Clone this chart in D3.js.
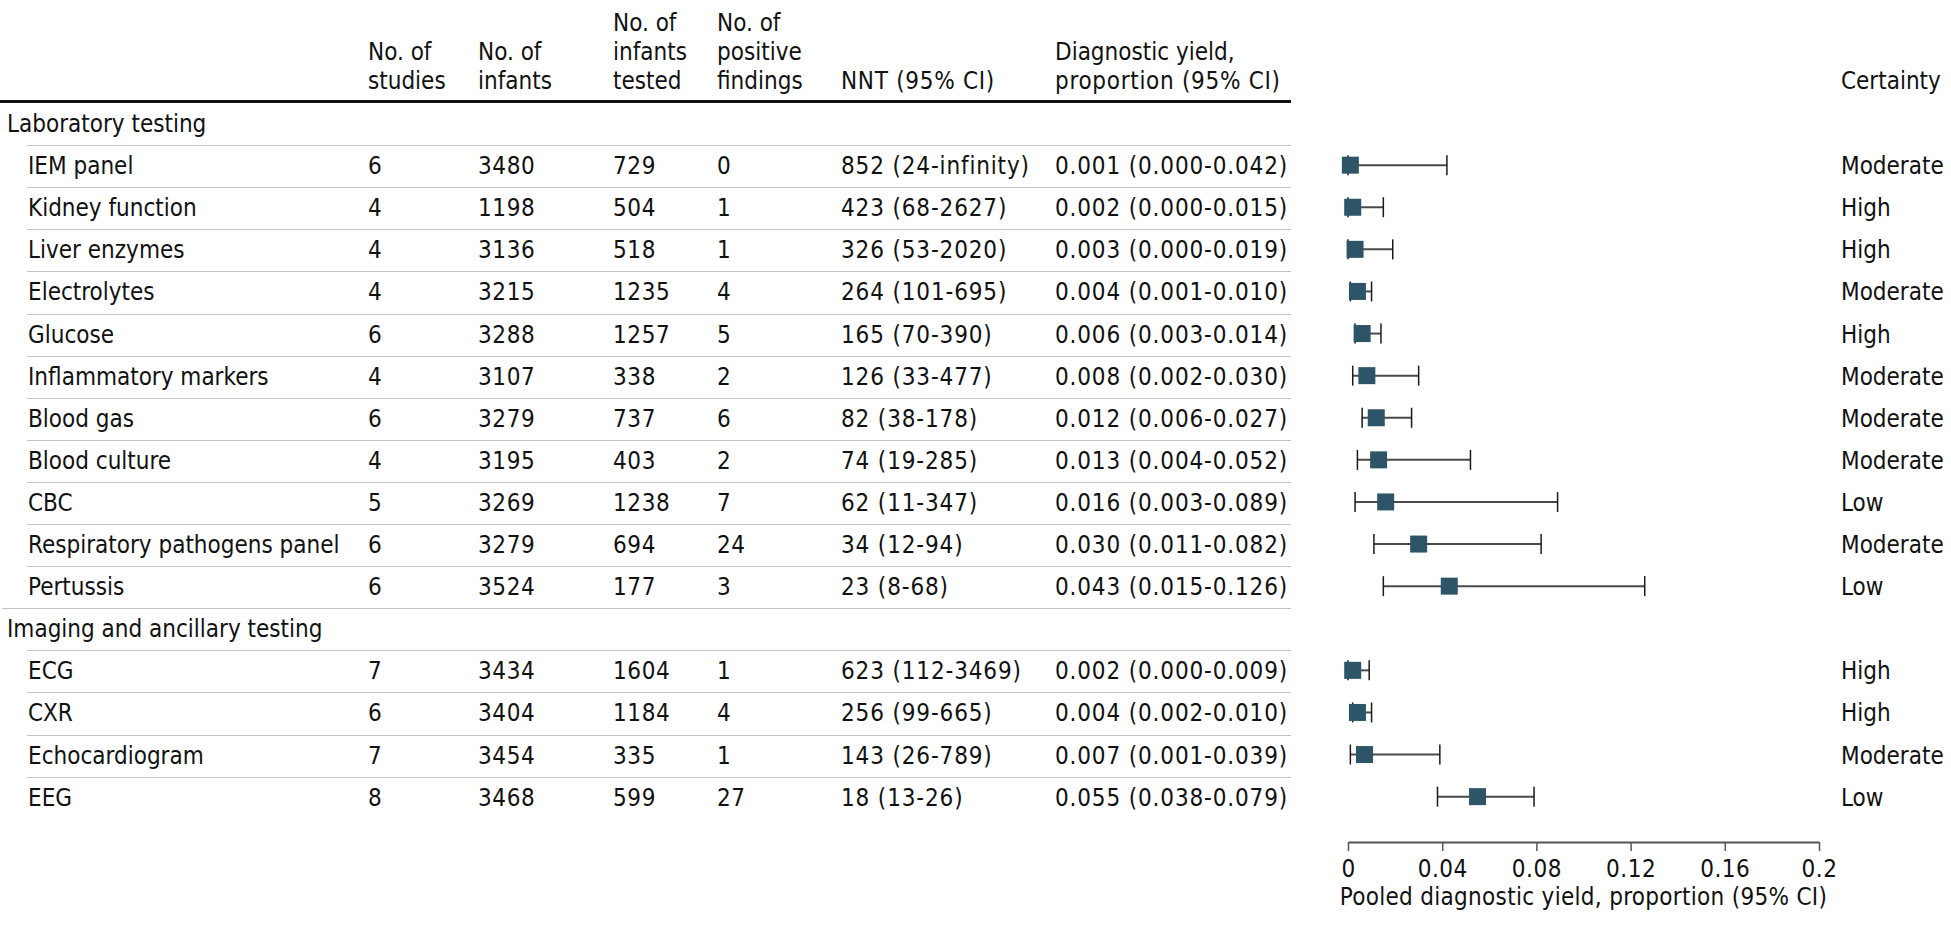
<!DOCTYPE html>
<html>
<head>
<meta charset="utf-8" />
<title>Diagnostic yield forest plot</title>
<script src="https://cdn.jsdelivr.net/npm/d3@7"></script>
<style>
  body { margin: 0; background: #fff; }
  svg text { font-family: "DejaVu Sans Condensed", "DejaVu Sans", sans-serif; font-stretch: condensed; fill: #111; }
</style>
</head>
<body>
<div id="chart"></div>
<script>
// table data, one entry per test
var groupNames = ["Laboratory testing", "Imaging and ancillary testing"];
var testGroup = [0, 0, 0, 0, 0, 0, 0, 0, 0, 0, 0, 1, 1, 1, 1];
var tests = ["IEM panel", "Kidney function", "Liver enzymes", "Electrolytes", "Glucose", "Inflammatory markers",
  "Blood gas", "Blood culture", "CBC", "Respiratory pathogens panel", "Pertussis",
  "ECG", "CXR", "Echocardiogram", "EEG"];
var nStudies = [6, 4, 4, 4, 6, 4, 6, 4, 5, 6, 6, 7, 6, 7, 8];
var nInfants = [3480, 1198, 3136, 3215, 3288, 3107, 3279, 3195, 3269, 3279, 3524, 3434, 3404, 3454, 3468];
var nTested = [729, 504, 518, 1235, 1257, 338, 737, 403, 1238, 694, 177, 1604, 1184, 335, 599];
var nPositive = [0, 1, 1, 4, 5, 2, 6, 2, 7, 24, 3, 1, 4, 1, 27];
var nnt = ["852 (24-infinity)", "423 (68-2627)", "326 (53-2020)", "264 (101-695)", "165 (70-390)", "126 (33-477)",
  "82 (38-178)", "74 (19-285)", "62 (11-347)", "34 (12-94)", "23 (8-68)",
  "623 (112-3469)", "256 (99-665)", "143 (26-789)", "18 (13-26)"];
var yieldEst = [0.001, 0.002, 0.003, 0.004, 0.006, 0.008, 0.012, 0.013, 0.016, 0.030, 0.043, 0.002, 0.004, 0.007, 0.055];
var yieldLo = [0.000, 0.000, 0.000, 0.001, 0.003, 0.002, 0.006, 0.004, 0.003, 0.011, 0.015, 0.000, 0.002, 0.001, 0.038];
var yieldHi = [0.042, 0.015, 0.019, 0.010, 0.014, 0.030, 0.027, 0.052, 0.089, 0.082, 0.126, 0.009, 0.010, 0.039, 0.079];
var certainty = ["Moderate", "High", "High", "Moderate", "High", "Moderate", "Moderate", "Moderate", "Low", "Moderate", "Low",
  "High", "High", "Moderate", "Low"];
var xTicks = [0, 0.04, 0.08, 0.12, 0.16, 0.2];

var width = 1951, height = 925;
var svg = d3.select("#chart").append("svg").attr("width", width).attr("height", height);

// flatten into rows: group header rows followed by their tests
var rows = [];
groupNames.forEach(function(g, gi) {
  rows.push({ header: true, label: g });
  tests.forEach(function(t, i) {
    if (testGroup[i] == gi) rows.push({ header: false, i: i });
  });
});

var rowH = 42.1;
var y = d3.scaleBand().domain(d3.range(rows.length)).range([103, 103 + rows.length * rowH]);
var x = d3.scaleLinear().domain([0, 0.2]).range([1348, 1819]);
var f3 = d3.format(".3f");

var colX = { label: 28, studies: 368, infants: 478, tested: 613, pos: 717, nnt: 841, yield: 1055, cert: 1841 };
var tableRight = 1291;
var fs = 24;

// column headers
var lineY = [31, 60, 89];
var headers = [
  [colX.studies, 1, "No. of"], [colX.studies, 2, "studies"],
  [colX.infants, 1, "No. of"], [colX.infants, 2, "infants"],
  [colX.tested, 0, "No. of"], [colX.tested, 1, "infants"], [colX.tested, 2, "tested"],
  [colX.pos, 0, "No. of"], [colX.pos, 1, "positive"], [colX.pos, 2, "findings"],
  [colX.nnt, 2, "NNT (95% CI)"],
  [colX.yield, 1, "Diagnostic yield,"], [colX.yield, 2, "proportion (95% CI)"],
  [colX.cert, 2, "Certainty"]
];
svg.append("g").selectAll("text").data(headers).enter().append("text")
  .attr("x", function(d) { return d[0]; })
  .attr("y", function(d) { return lineY[d[1]]; })
  .style("font-size", fs + "px")
  .style("letter-spacing", function(d) { return d[2].indexOf("95%") >= 0 ? "0.7px" : null; })
  .text(function(d) { return d[2]; });

svg.append("line").attr("x1", 0).attr("x2", tableRight).attr("y1", 101.5).attr("y2", 101.5)
  .attr("stroke", "#111").attr("stroke-width", 3);

// separators between rows
var seps = svg.append("g");
rows.forEach(function(r, k) {
  if (k == rows.length - 1) return;
  var full = rows[k + 1].header;
  seps.append("line")
    .attr("x1", full ? 2 : 27).attr("x2", tableRight)
    .attr("y1", Math.round(y(k) + rowH) + 0.5).attr("y2", Math.round(y(k) + rowH) + 0.5)
    .attr("stroke", "#c4c4c4").attr("stroke-width", 1.2);
});

// table text
var rowG = svg.append("g").selectAll("g").data(rows).enter().append("g")
  .attr("transform", function(d, k) { return "translate(0," + (y(k) + 29) + ")"; })
  .style("font-size", fs + "px");

rowG.filter(function(d) { return d.header; }).append("text").attr("x", 7).text(function(d) { return d.label; });

var dataRows = rowG.filter(function(d) { return !d.header; });
function cell(key, fn, spacing) {
  dataRows.append("text").attr("x", colX[key])
    .style("letter-spacing", spacing || null)
    .text(function(d) { return fn(d.i); });
}
cell("label", function(i) { return tests[i]; });
cell("studies", function(i) { return nStudies[i]; }, "0.6px");
cell("infants", function(i) { return nInfants[i]; }, "0.6px");
cell("tested", function(i) { return nTested[i]; }, "0.6px");
cell("pos", function(i) { return nPositive[i]; }, "0.6px");
cell("nnt", function(i) { return nnt[i]; }, "0.85px");
cell("yield", function(i) { return f3(yieldEst[i]) + " (" + f3(yieldLo[i]) + "-" + f3(yieldHi[i]) + ")"; }, "0.85px");
cell("cert", function(i) { return certainty[i]; });

// forest plot marks
var plot = svg.append("g").selectAll("g").data(rows.map(function(r, k) { return { r: r, k: k }; })
    .filter(function(d) { return !d.r.header; }))
  .enter().append("g")
  .attr("transform", function(d) { return "translate(0," + (y(d.k) + rowH / 2 - 1) + ")"; });

plot.append("line")
  .attr("x1", function(d) { return x(yieldLo[d.r.i]); })
  .attr("x2", function(d) { return x(yieldHi[d.r.i]); })
  .attr("stroke", "#4a4a4a").attr("stroke-width", 2);
plot.append("line")
  .attr("x1", function(d) { return x(yieldLo[d.r.i]); })
  .attr("x2", function(d) { return x(yieldLo[d.r.i]); })
  .attr("y1", -10).attr("y2", 10).attr("stroke", "#1a1a1a").attr("stroke-width", 1.5);
plot.append("line")
  .attr("x1", function(d) { return x(yieldHi[d.r.i]); })
  .attr("x2", function(d) { return x(yieldHi[d.r.i]); })
  .attr("y1", -10).attr("y2", 10).attr("stroke", "#1a1a1a").attr("stroke-width", 1.5);
plot.append("rect")
  .attr("x", function(d) { return x(yieldEst[d.r.i]) - 8.5; })
  .attr("y", -8.5).attr("width", 17).attr("height", 17)
  .attr("fill", "#2d5567");

// x axis
var axis = svg.append("g").attr("transform", "translate(0,842)")
  .call(d3.axisBottom(x).tickValues(xTicks).tickSize(9).tickSizeOuter(0).tickPadding(9)
    .tickFormat(function(d) { return (d == 0 || d == 0.2) ? String(d) : d3.format(".2f")(d); }));
axis.select(".domain").attr("stroke", "#555").attr("stroke-width", 2);
axis.selectAll(".tick line").attr("stroke", "#555").attr("stroke-width", 1.5);
axis.selectAll(".tick text").style("font-size", "24px").attr("fill", "#111")
  .style("letter-spacing", "0.5px")
  .style("font-family", "'DejaVu Sans Condensed', 'DejaVu Sans', sans-serif");

svg.append("text").attr("x", (x(0) + x(0.2)) / 2).attr("y", 905).attr("text-anchor", "middle")
  .style("font-size", "24px").style("letter-spacing", "0.3px")
  .text("Pooled diagnostic yield, proportion (95% CI)");
</script>
</body>
</html>
